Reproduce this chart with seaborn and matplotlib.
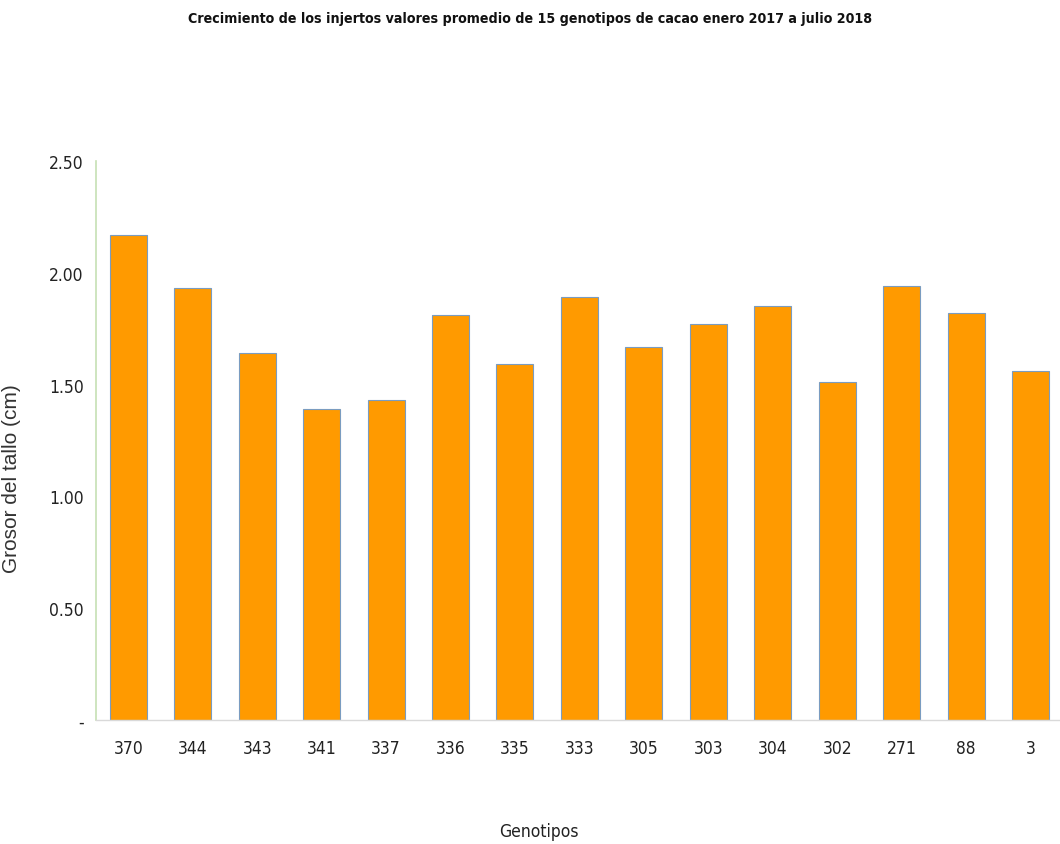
import matplotlib
matplotlib.use("Agg")
import matplotlib.pyplot as plt
import seaborn as sns
import pandas as pd

genotipos = ["370", "344", "343", "341", "337", "336", "335", "333", "305", "303", "304", "302", "271", "88", "3"]
grosor = [2.17, 1.93, 1.64, 1.39, 1.43, 1.81, 1.59, 1.89, 1.67, 1.77, 1.85, 1.51, 1.94, 1.82, 1.56]
yticks = [0.0, 0.5, 1.0, 1.5, 2.0, 2.5]
ytick_labels = ["-", "0.50", "1.00", "1.50", "2.00", "2.50"]

sns.set_theme(style="white")
plt.rcParams['font.family'] = ['DejaVu Sans']

df = pd.DataFrame({"Genotipos": genotipos, "Grosor": grosor})

fig = plt.figure(figsize=(10.6, 8.45), dpi=100)
ax = fig.add_axes([0.0906, 0.1467, 0.912, 0.6616])
sns.barplot(data=df, x="Genotipos", y="Grosor", order=genotipos, color="#FF9A00",
            saturation=1, width=0.575, edgecolor="#7a9cc0", linewidth=0.8, ax=ax)

ax.set_ylim(0, 2.5)
ax.set_yticks(yticks)
ax.set_yticklabels(ytick_labels, fontsize=12.5, color="#222222", fontstretch="condensed")
ax.set_xticks(range(len(genotipos)))
ax.set_xticklabels(genotipos, fontsize=12.5, color="#222222", fontstretch="condensed")
ax.tick_params(axis="x", length=0, pad=14)
ax.tick_params(axis="y", length=0, pad=9)
for sp in ["top", "right"]:
    ax.spines[sp].set_visible(False)
ax.spines["left"].set_color("#c6e0b4")
ax.spines["left"].set_linewidth(1.2)
ax.spines["bottom"].set_color("#d9d9d9")
ax.spines["bottom"].set_linewidth(1.0)

ax.set_xlabel("Genotipos", fontsize=12.5, color="#222222", fontstretch="condensed")
ax.xaxis.set_label_coords(0.458, -0.183)
ax.set_ylabel("Grosor del tallo (cm)", fontsize=15, color="#333333",
              family=["Liberation Sans", "DejaVu Sans"])
ax.yaxis.set_label_coords(-0.078, 0.433)
fig.text(0.5, 0.986, "Crecimiento de los injertos valores promedio de 15 genotipos de cacao enero 2017 a julio 2018",
         ha="center", va="top", fontsize=10.2, fontweight="bold", color="#111111", fontstretch="condensed")

fig.savefig("out.png", dpi=100, facecolor="white")
